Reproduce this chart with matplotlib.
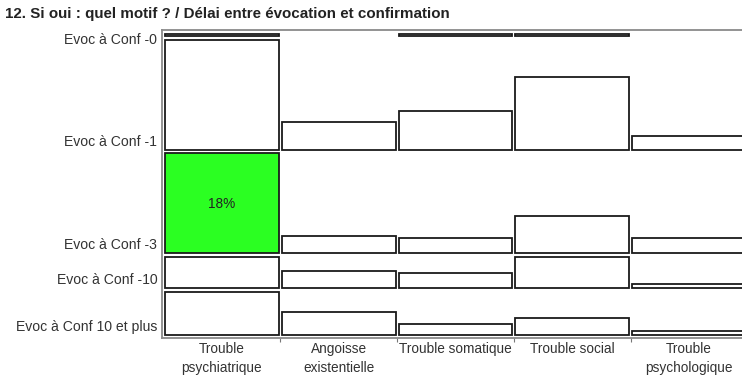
import matplotlib.pyplot as plt
from matplotlib.patches import Rectangle
import numpy as np

plt.rcParams['font.family'] = ['Liberation Sans', 'DejaVu Sans']

# Data (bar heights, in % of respondents)
motifs = ["Trouble\npsychiatrique", "Angoisse\nexistentielle", "Trouble somatique",
          "Trouble social", "Trouble\npsychologique"]
delais = ["Evoc à Conf -0", "Evoc à Conf -1", "Evoc à Conf -3",
          "Evoc à Conf -10", "Evoc à Conf 10 et plus"]
conf_0 = [0.3, 0.0, 0.3, 0.3, 0.0]
conf_1 = [19.8, 5.0, 7.0, 13.0, 2.5]
conf_3 = [18.0, 3.1, 2.7, 6.7, 2.7]
conf_10 = [5.6, 3.1, 2.7, 5.6, 0.7]
conf_10plus = [7.8, 4.2, 2.0, 3.1, 0.7]
highlight = (2, 0)  # (delai, motif) cell shown in green
highlight_label = "18%"

rows = [conf_0, conf_1, conf_3, conf_10, conf_10plus]

fig = plt.figure(figsize=(7.42, 3.77), dpi=100)
W, H = 742, 377
# axes frame in pixels: left 162, top 30, bottom 338, right beyond the image
ax = fig.add_axes([162 / W, 1 - 338 / H, (749 - 162) / W, (338 - 30) / H])

gap_x = 0.026
top_pad, gap_y, bottom_pad = 0.8, 0.62, 0.55

y = top_pad
bottoms = []
for r, vals in enumerate(rows):
    bottom = y + max(vals)
    bottoms.append(bottom)
    for c, v in enumerate(vals):
        if v <= 0:
            continue
        face = '#2bff22' if (r, c) == highlight else 'white'
        ax.add_patch(Rectangle((c + gap_x / 2, bottom - v), 1 - gap_x, v,
                               facecolor=face, edgecolor='#1a1a1a', linewidth=1.3))
        if (r, c) == highlight:
            ax.text(c + 0.5, bottom - v / 2 + 0.2, highlight_label, ha='center', va='center',
                    fontsize=9.8, color='#222222')
    y = bottom + gap_y

ax.set_xlim(-gap_x / 2, len(motifs) + gap_x / 2)
ax.set_ylim(y - gap_y + bottom_pad, 0)

# row labels, close to the bottom of each row
for lab, b in zip(delais, bottoms):
    ax.annotate(lab, xy=(0, max(b - 1.44, 1.8)), xycoords=('axes fraction', 'data'),
                xytext=(-3.5, 0), textcoords='offset points', ha='right', va='center',
                fontsize=10.1, color='#333333')
ax.set_yticks([])

# column labels and separators
ax.set_xticks(np.arange(1, len(motifs)))
ax.set_xticklabels([])
ax.tick_params(axis='x', which='major', length=3, color='#777777', width=0.8)
ax.set_xticks(np.arange(len(motifs)) + 0.5, minor=True)
ax.set_xticklabels(motifs, minor=True, fontsize=9.8, color='#333333', linespacing=1.38)
ax.tick_params(axis='x', which='minor', length=0, pad=3.2)

for s in ax.spines.values():
    s.set_color('#8a8a8a')
    s.set_linewidth(1.3)

fig.text(5 / W, 1 - 14 / H, "12. Si oui : quel motif ? / Délai entre évocation et confirmation",
         fontsize=10.9, fontweight='bold', ha='left', va='center', color='#222222')

fig.savefig('out.png', dpi=100)
